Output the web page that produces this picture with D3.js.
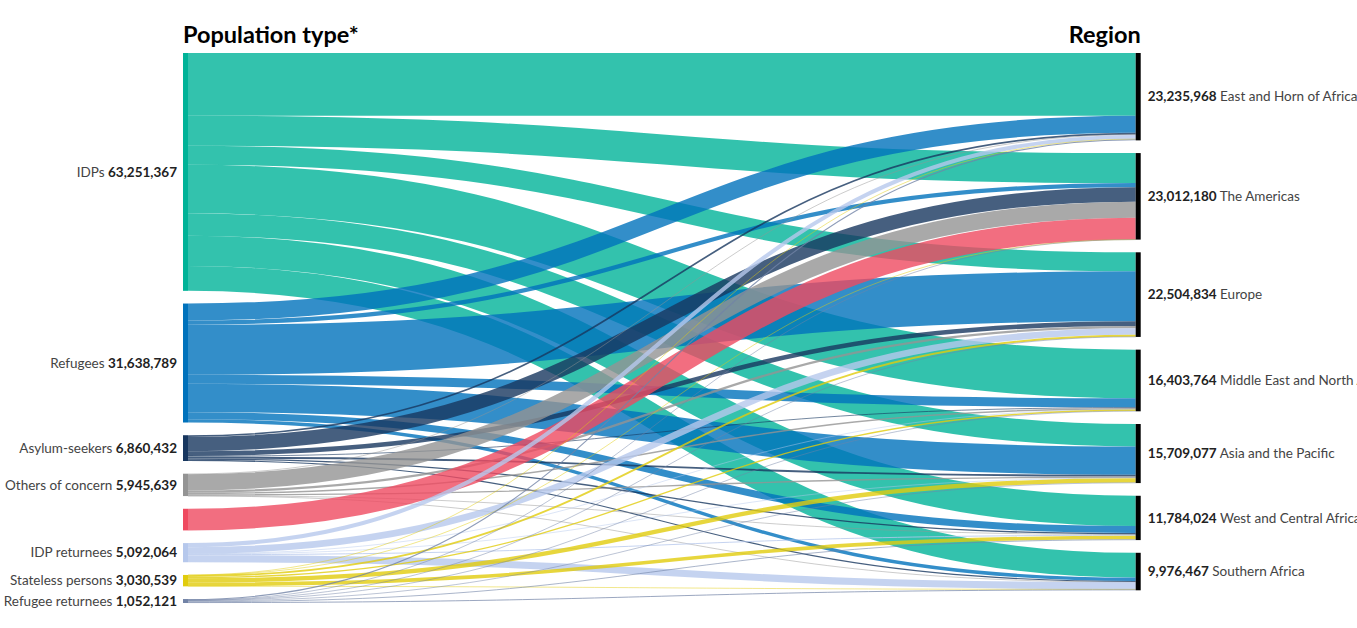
<!DOCTYPE html>
<html>
<head>
<meta charset="utf-8">
<script src="https://cdn.jsdelivr.net/npm/d3@7"></script>
<style>
  html, body { margin: 0; padding: 0; background: #fff; }
  svg { display: block; font-family: Lato, "Open Sans", sans-serif; }
</style>
</head>
<body>
<svg id="chart" width="1357" height="628"></svg>
<script>
// ---------------- DATA ----------------
const sourceNames = ["IDPs", "Refugees", "Asylum-seekers", "Others of concern",
  "Other people in need of international protection", "IDP returnees", "Stateless persons", "Refugee returnees"];
const sourceTotals = [63251367, 31638789, 6860432, 5945639, 5755363, 5092064, 3030539, 1052121];
const sourceShowLabel = [true, true, true, true, false, true, true, true];

const regionNames = ["East and Horn of Africa", "The Americas", "Europe", "Middle East and North Africa",
  "Asia and the Pacific", "West and Central Africa", "Southern Africa"];
const regionTotals = [23235968, 23012180, 22504834, 16403764, 15709077, 11784024, 9976467];

// flows (millions) from each population type to each region (regionNames order)
const flowIDPs              = [16.68, 7.98, 5.06, 12.93, 5.96, 8.06, 6.581];
const flowRefugees          = [4.52, 1.14, 13.3, 2.39, 7.53, 1.86, 0.9];
const flowAsylumSeekers     = [0.45, 3.8, 1.25, 0.2, 0.5, 0.35, 0.31];
const flowOthersOfConcern   = [0.15, 4.31, 0.59, 0.4, 0.35, 0.1, 0.046];
const flowOtherProtection   = [0, 5.755, 0, 0, 0, 0, 0];
const flowIDPReturnees      = [1.086, 0, 1.755, 0.034, 0.069, 0.264, 1.884];
const flowStateless         = [0.05, 0.01, 0.5, 0.35, 1.15, 0.95, 0.02];
const flowRefugeeReturnees  = [0.3, 0.017, 0.05, 0.1, 0.15, 0.2, 0.235];
const flows = [flowIDPs, flowRefugees, flowAsylumSeekers, flowOthersOfConcern,
  flowOtherProtection, flowIDPReturnees, flowStateless, flowRefugeeReturnees];

const sourceColors = ["#00B398", "#0072BC", "#18375F", "#949494", "#EF4A60", "#B6C8EC", "#E1CC0D", "#7283A6"];

// ---------------- LAYOUT ----------------
const svg = d3.select("#chart");
const y0 = 53, y1 = 603, pad = 12.7;
const xLinkL = 188, xLinkR = 1135.7, nodeW = 5;

const leftSum = d3.sum(flows, f => d3.sum(f));
const ky = (y1 - y0 - (sourceNames.length - 1) * pad) / leftSum;
const vScale = d3.scaleLinear().domain([0, leftSum]).range([0, leftSum * ky]);
const xScale = d3.scaleLinear().domain([0, 1]).range([xLinkL, xLinkR]);

// source nodes
const sNodes = sourceNames.map((n, i) => ({ name: n, value: d3.sum(flows[i]), i }));
let y = y0;
sNodes.forEach(nd => { nd.y0 = y; nd.y1 = y + vScale(nd.value); y = nd.y1 + pad; });
// target nodes
const tNodes = regionNames.map((n, j) => ({ name: n, value: d3.sum(flows, f => f[j]), j }));
y = y0;
tNodes.forEach(nd => { nd.y0 = y; nd.y1 = y + vScale(nd.value); y = nd.y1 + pad; });

// links
const links = [];
sNodes.forEach((s, i) => {
  let sy = s.y0;
  regionNames.forEach((r, j) => {
    const v = flows[i][j];
    if (v <= 0) return;
    const w = vScale(v);
    links.push({ i, j, v, w, sy: sy + w / 2 });
    sy += w;
  });
});
tNodes.forEach((t, j) => {
  let ty = t.y0;
  links.filter(l => l.j === j).sort((a, b) => a.i - b.i).forEach(l => {
    l.ty = ty + l.w / 2; ty += l.w;
  });
});

const linkGen = d3.linkHorizontal().x(d => d[0]).y(d => d[1]);

svg.append("g").selectAll("path").data(links).join("path")
  .attr("d", l => linkGen({ source: [xScale(0), l.sy], target: [xScale(1), l.ty] }))
  .attr("fill", "none")
  .attr("stroke", l => sourceColors[l.i])
  .attr("stroke-opacity", 0.8)
  .attr("stroke-width", l => Math.max(0.6, l.w));

// nodes
svg.append("g").selectAll("rect").data(sNodes).join("rect")
  .attr("x", xLinkL - nodeW).attr("y", d => d.y0)
  .attr("width", nodeW).attr("height", d => Math.max(1, d.y1 - d.y0))
  .attr("fill", d => sourceColors[d.i]);
svg.append("g").selectAll("rect").data(tNodes).join("rect")
  .attr("x", xLinkR).attr("y", d => d.y0)
  .attr("width", nodeW).attr("height", d => d.y1 - d.y0)
  .attr("fill", "#000");

const fmt = d3.format(",");

// labels left
const lt = svg.append("g").selectAll("text").data(sNodes.filter(d => sourceShowLabel[d.i])).join("text")
  .attr("x", xLinkL - nodeW - 6).attr("y", d => (d.y0 + d.y1) / 2).attr("dy", "0.35em")
  .attr("text-anchor", "end").attr("font-size", 13.5);
lt.append("tspan").attr("fill", "#444").text(d => d.name + " ");
lt.append("tspan").attr("fill", "#222").attr("font-weight", 700).text(d => fmt(sourceTotals[d.i]));

// labels right
const rt = svg.append("g").selectAll("text").data(tNodes).join("text")
  .attr("x", xLinkR + nodeW + 7).attr("y", d => (d.y0 + d.y1) / 2).attr("dy", "0.35em")
  .attr("text-anchor", "start").attr("font-size", 13.5);
rt.append("tspan").attr("fill", "#222").attr("font-weight", 700).text(d => fmt(regionTotals[d.j]));
rt.append("tspan").attr("fill", "#444").text(d => " " + d.name);

// titles
svg.append("text").attr("x", xLinkL - nodeW).attr("y", 43)
  .attr("font-size", 23.5).attr("font-weight", 700).attr("fill", "#000").text("Population type*");
svg.append("text").attr("x", xLinkR + nodeW).attr("y", 43).attr("text-anchor", "end")
  .attr("font-size", 23.5).attr("font-weight", 700).attr("fill", "#000").text("Region");
</script>
</body>
</html>
